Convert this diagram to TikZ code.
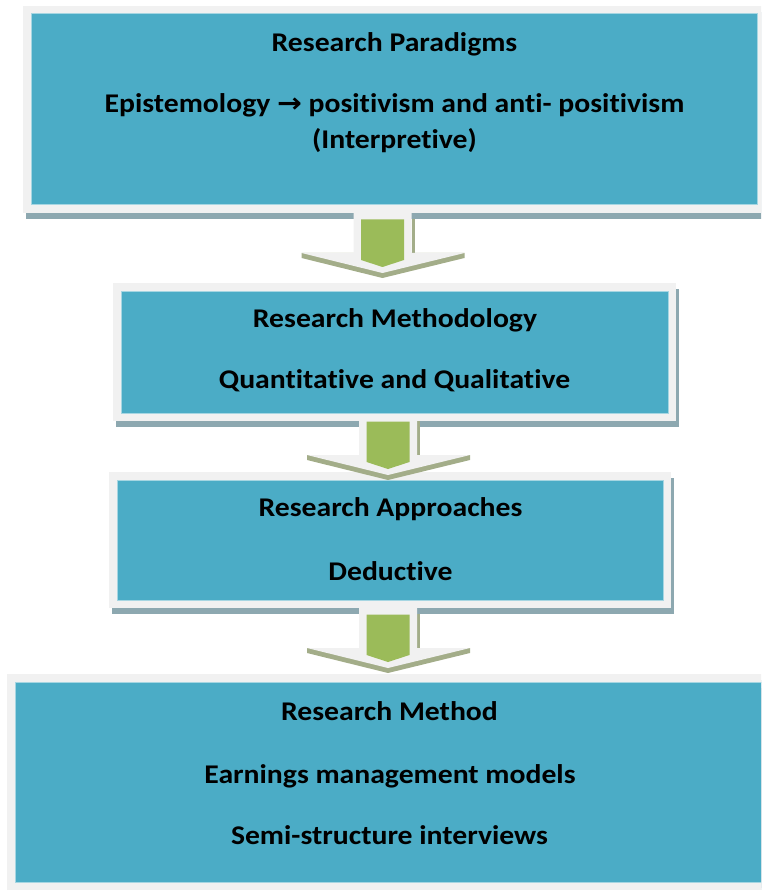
\documentclass[tikz,border=0pt]{standalone}
\usepackage{fontspec}
\setmainfont[FakeStretch=1.1, Ligatures=NoCommon]{Carlito}
\newfontfamily\arrowfont[FakeStretch=1.1]{DejaVu Sans}
\usetikzlibrary{calc}

\definecolor{boxblue}{HTML}{4BACC6}
\definecolor{boxedge}{HTML}{A6D6E2}
\definecolor{framegray}{HTML}{F1F1F1}
\definecolor{boxshade}{HTML}{8DA8B0}
\definecolor{leafgreen}{HTML}{9BBB59}
\definecolor{arrowshade}{HTML}{A3AD89}

\tikzset{
  x=1pt, y=1pt,
  % blue panel with a light frame and an offset shadow
  panel/.style={
    rectangle, anchor=north west, inner sep=0pt, outer sep=0pt,
    fill=boxblue, draw=boxedge, line width=1pt,
    preaction={draw=boxshade, fill=boxshade, line width=16pt,
               transform canvas={xshift=3pt, yshift=-6pt}},
    preaction={draw=framegray, line width=16pt},
  },
  linetext/.style={font=\fontsize{27}{32}\selectfont\bfseries,
                   anchor=base, inner sep=0pt},
  % block arrow between two panels; origin = top centre of the shaft
  flowarrow/.pic={
    \fill[arrowshade] (29,-7) rectangle (32,-41);
    \fill[arrowshade] (-81,-41) -- (82,-41) -- (82,-46) -- (0,-66) -- (-81,-46) -- cycle;
    \fill[framegray] (-29,0) -- (29,0) -- (29,-41) -- (82,-41) -- (0,-61)
                     -- (-81,-41) -- (-29,-41) -- cycle;
    \fill[leafgreen] (-21.5,-7.5) -- (21.5,-7.5) -- (21.5,-48) -- (0,-55)
                     -- (-21.5,-48) -- cycle;
  },
}

\begin{document}
\begin{tikzpicture}
\useasboundingbox (0,0) rectangle (761,-890);
\clip (0,0) rectangle (761,-890);

% panels
\node[panel, minimum width=726pt, minimum height=191pt] (b1) at (31,-14) {};
\node[panel, minimum width=547pt, minimum height=122pt] (b2) at (121,-291) {};
\node[panel, minimum width=546pt, minimum height=120pt] (b3) at (117,-480) {};
\node[panel, minimum width=750pt, minimum height=200pt] (b4) at (15,-682) {};

% arrows joining the panels
\pic at ($(b1.south)+(-11.5,-7)$) {flowarrow};
\pic at ($(b2.south)+(-6.5,-1)$) {flowarrow};
\pic at ($(b3.south)+(-2,-7)$) {flowarrow};

% panel texts
\node[linetext] (p1) at (394.5,-52) {Research Paradigms};
\node[linetext] (p2) at (394.5,-113) {Epistemology {\arrowfont\fontsize{27}{30}\selectfont →} positivism and anti- positivism};
\node[linetext] (p3) at (394.5,-149) {(Interpretive)};

\node[linetext] (m1) at (395,-327) {Research Methodology};
\node[linetext] (m2) at (394.5,-388) {Quantitative and Qualitative};

\node[linetext] (a1) at (390.5,-516) {Research Approaches};
\node[linetext] (a2) at (390.5,-580) {Deductive};

\node[linetext] (r1) at (389.5,-720) {Research Method};
\node[linetext] (r2) at (390,-783) {Earnings management models};
\node[linetext] (r3) at (389.5,-844) {Semi-structure interviews};
\end{tikzpicture}
\end{document}
